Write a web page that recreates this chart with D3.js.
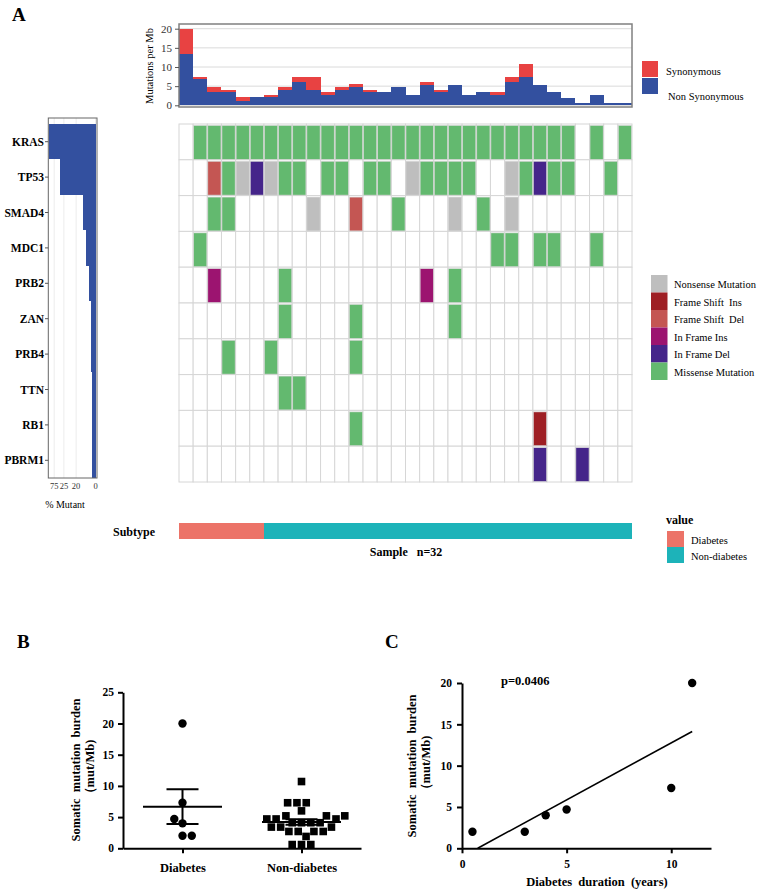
<!DOCTYPE html>
<html><head><meta charset="utf-8">
<script src="https://cdn.jsdelivr.net/npm/d3@7"></script>
<style>
body{margin:0;background:#fff}
svg{display:block}
text{font-family:"Liberation Serif","Times New Roman",serif;white-space:pre}
</style>
</head><body>
<svg id="chart" width="758" height="892"></svg>
<script>
// ---------------- DATA ----------------
const samples = ["P01","P02","P03","P04","P05","P06","P07","P08","P09","P10","P11","P12","P13","P14","P15","P16",
                 "P17","P18","P19","P20","P21","P22","P23","P24","P25","P26","P27","P28","P29","P30","P31","P32"];
const genes = ["KRAS","TP53","SMAD4","MDC1","PRB2","ZAN","PRB4","TTN","RB1","PBRM1"];
// one string per gene, one character per sample: M missense, N nonsense, I frame-shift ins,
// D frame-shift del, i in-frame ins, d in-frame del, . none
const geneCalls = [
  ".MMMMMMMMMMMMMMMMMMMMMMMMMMM.M.M",
  "..DMNdNMM.MM.MM.NMMMM..NMdMM..M.",
  "..MM.....N..D..M...N.M.N........",
  ".M....................MM.MM..M..",
  "..i....M.........i.M............",
  ".......M....M......M............",
  "...M..M.....M...................",
  ".......MM.......................",
  "............M............I......",
  ".........................d..d..."
];
const nonSynonymous = [13.5,6.9,3.6,3.6,1.2,2.1,2.1,4.1,6.1,4.1,2.7,4.1,4.9,3.6,3.5,4.9,
                       2.6,5.4,3.5,5.4,2.6,3.5,2.8,6.1,7.4,5.4,3.5,2.0,0.6,2.6,0.6,0.6];
const synonymous    = [6.5,0.5,1.2,0.5,0.9,0,0.5,0.7,1.3,3.3,0.8,0.7,0.6,0.5,0,0,
                       0,0.7,0.6,0,0,0,0.7,1.3,3.4,0,0,0,0,0,0,0];
const sampleSubtype = ["Diabetes","Diabetes","Diabetes","Diabetes","Diabetes","Diabetes",
  "Non-diabetes","Non-diabetes","Non-diabetes","Non-diabetes","Non-diabetes","Non-diabetes","Non-diabetes",
  "Non-diabetes","Non-diabetes","Non-diabetes","Non-diabetes","Non-diabetes","Non-diabetes","Non-diabetes",
  "Non-diabetes","Non-diabetes","Non-diabetes","Non-diabetes","Non-diabetes","Non-diabetes","Non-diabetes",
  "Non-diabetes","Non-diabetes","Non-diabetes","Non-diabetes","Non-diabetes"];

const mutationCodes  = ["N","I","D","i","d","M"];
const mutationLabels = ["Nonsense Mutation","Frame Shift  Ins","Frame Shift  Del","In Frame Ins","In Frame Del","Missense Mutation"];
const mutationColors = ["#bebebe","#9e1f24","#c45653","#9c1470","#45258a","#63b96f"];
const burdenLabels = ["Synonymous","Non Synonymous"];
const burdenColors = ["#e84242","#33509f"];
const subtypeLevels = ["Diabetes","Non-diabetes"];
const subtypeColors = ["#ec7368","#1db3b9"];

const topTicks = [0,5,10,15,20];
const pctTickValues = [81,62,38,0];
const pctTickLabels = ["75","25","20","0"];

// Panel B
const groupsB = ["Diabetes","Non-diabetes"];
const diabetesTMB = [20.0,7.3,4.7,4.0,2.0,2.0];
const nonDiabetesTMB = [10.7,7.3,7.3,7.3,6.0,5.2,5.2,5.2,4.7,4.7,4.7,4.1,4.1,4.1,4.1,
                        3.4,3.4,3.4,2.7,2.7,2.7,2.7,1.9,0.6,0.6,0.6];
const ticksB = [0,5,10,15,20,25];

// Panel C
const durationYears = [0.5,3,4,5,10,11];
const durationTMB   = [2.0,2.0,4.0,4.7,7.3,20.0];
const ticksCx = [0,5,10];
const ticksCy = [0,5,10,15,20];
const pText = "p=0.0406";

// ---------------- DRAW ----------------
const svg = d3.select("#chart");

// Panel A label
svg.append("text").attr("x",12).attr("y",21).attr("font-size",19).attr("font-weight","bold").text("A");

// ---- top bar chart
const xS = d3.scaleBand().domain(samples).range([179,632]).padding(0);
const yTop = d3.scaleLinear().domain([0,20]).range([105.3,28.7]);
const topG = svg.append("g");
topG.selectAll(".gl").data(topTicks).join("line")
  .attr("x1",179).attr("x2",632).attr("y1",d=>yTop(d)).attr("y2",d=>yTop(d))
  .attr("stroke","#dadada").attr("stroke-width",1);
topG.selectAll(".ns").data(samples).join("rect")
  .attr("x",d=>xS(d)).attr("width",xS.bandwidth())
  .attr("y",(d,i)=>yTop(nonSynonymous[i])).attr("height",(d,i)=>yTop(0)-yTop(nonSynonymous[i]))
  .attr("fill",burdenColors[1]).attr("shape-rendering","crispEdges");
topG.selectAll(".sy").data(samples).join("rect")
  .attr("x",d=>xS(d)).attr("width",xS.bandwidth())
  .attr("y",(d,i)=>yTop(nonSynonymous[i]+synonymous[i])).attr("height",(d,i)=>yTop(nonSynonymous[i])-yTop(nonSynonymous[i]+synonymous[i]))
  .attr("fill",burdenColors[0]).attr("shape-rendering","crispEdges");
topG.append("rect").attr("x",179).attr("y",24).attr("width",453).attr("height",83)
  .attr("fill","none").attr("stroke","#808080").attr("stroke-width",1.5);
const yAxTop = topG.append("g").attr("transform","translate(179,0)")
  .call(d3.axisLeft(yTop).tickValues(topTicks).tickSize(4).tickSizeOuter(0));
yAxTop.select(".domain").remove();
yAxTop.selectAll("line").attr("stroke","#555");
yAxTop.selectAll("text").attr("font-family","Liberation Serif").attr("font-size",11).attr("fill","#333");
topG.append("text").attr("transform","translate(153,66) rotate(-90)").attr("text-anchor","middle")
  .attr("font-size",10.5).text("Mutations per Mb");

// top legend
burdenLabels.forEach((lab,i)=>{
  svg.append("rect").attr("x",642).attr("y",61+i*17).attr("width",16).attr("height",16).attr("fill",burdenColors[i]);
});
svg.append("text").attr("x",666).attr("y",75).attr("font-size",10.5).text(burdenLabels[0]);
svg.append("text").attr("x",668).attr("y",100).attr("font-size",10.5).text(burdenLabels[1]);

// ---- oncoprint grid
const yG = d3.scaleBand().domain(genes).range([124,482]).padding(0);
const colorOf = c => mutationColors[mutationCodes.indexOf(c)];
const cells = [];
genes.forEach((g,gi)=>samples.forEach((s,si)=>cells.push({g,s,c:geneCalls[gi][si]})));
const grid = svg.append("g");
grid.selectAll("rect.cell").data(cells).join("rect")
  .attr("x",d=>xS(d.s)).attr("y",d=>yG(d.g)).attr("width",xS.bandwidth()).attr("height",yG.bandwidth())
  .attr("fill","#fff").attr("stroke","#d6d6d6").attr("stroke-width",1);
grid.selectAll("rect.mut").data(cells.filter(d=>d.c!==".")).join("rect")
  .attr("x",d=>xS(d.s)+0.5).attr("y",d=>yG(d.g)+1.5).attr("width",xS.bandwidth()-1).attr("height",yG.bandwidth()-2)
  .attr("fill",d=>colorOf(d.c)).attr("stroke","#d6d6d6").attr("stroke-width",0.6);

// mutation legend
mutationLabels.forEach((lab,i)=>{
  svg.append("rect").attr("x",651).attr("y",275+i*17.5).attr("width",16.5).attr("height",17.5).attr("fill",mutationColors[i]);
  svg.append("text").attr("x",674).attr("y",275+i*17.5+13).attr("font-size",10.5).text(lab);
});

// ---- left % mutant bars
const pct = geneCalls.map(s=>s.split("").filter(c=>c!==".").length/samples.length*100);
const xP = d3.scaleLinear().domain([0,100]).range([95.5,44.5]);
const yL = d3.scaleBand().domain(genes).range([124,478]).padding(0);
const leftG = svg.append("g");
leftG.selectAll(".vg").data(pctTickValues).join("line")
  .attr("x1",d=>xP(d)).attr("x2",d=>xP(d)).attr("y1",118).attr("y2",478)
  .attr("stroke","#ececec").attr("stroke-width",1);
leftG.selectAll(".pb").data(genes).join("rect")
  .attr("x",(d,i)=>xP(pct[i])).attr("width",(d,i)=>xP(0)-xP(pct[i]))
  .attr("y",d=>yL(d)).attr("height",yL.bandwidth())
  .attr("fill","#33509f").attr("shape-rendering","crispEdges");
leftG.append("rect").attr("x",48.3).attr("y",118).attr("width",48.7).attr("height",360)
  .attr("fill","none").attr("stroke","#666").attr("stroke-width",1);
leftG.selectAll(".gt").data(genes).join("line")
  .attr("x1",45).attr("x2",48.3).attr("y1",d=>yL(d)+yL.bandwidth()/2).attr("y2",d=>yL(d)+yL.bandwidth()/2)
  .attr("stroke","#555");
leftG.selectAll(".gn").data(genes).join("text")
  .attr("x",44).attr("y",d=>yL(d)+yL.bandwidth()/2+4).attr("text-anchor","end")
  .attr("font-size",11.5).attr("font-weight","bold").text(d=>d);
leftG.selectAll(".pt").data(pctTickValues).join("text")
  .attr("x",d=>xP(d)).attr("y",489).attr("text-anchor","middle").attr("font-size",8.5).attr("fill","#333")
  .text((d,i)=>pctTickLabels[i]);
leftG.append("text").attr("x",65).attr("y",508).attr("text-anchor","middle").attr("font-size",10).text("% Mutant");

// ---- subtype bar
svg.append("text").attr("x",113).attr("y",536).attr("font-size",12).attr("font-weight","bold").text("Subtype");
svg.selectAll(".st").data(samples).join("rect")
  .attr("x",d=>xS(d)).attr("width",xS.bandwidth()+0.3).attr("y",523).attr("height",16)
  .attr("fill",(d,i)=>subtypeColors[subtypeLevels.indexOf(sampleSubtype[i])]).attr("shape-rendering","crispEdges");
svg.append("text").attr("x",406).attr("y",556).attr("text-anchor","middle").attr("font-size",12).attr("font-weight","bold")
  .text("Sample   n=" + samples.length);
svg.append("text").attr("x",666).attr("y",524).attr("font-size",12).attr("font-weight","bold").text("value");
subtypeLevels.forEach((lab,i)=>{
  svg.append("rect").attr("x",667).attr("y",531+i*16).attr("width",17).attr("height",16).attr("fill",subtypeColors[i]);
  svg.append("text").attr("x",691).attr("y",544+i*16).attr("font-size",10.5).text(lab);
});

// ---------------- Panel B ----------------
svg.append("text").attr("x",17).attr("y",648).attr("font-size",19).attr("font-weight","bold").text("B");
const yB = d3.scaleLinear().domain([0,25]).range([848.3,692.3]);
const xB = d3.scalePoint().domain(groupsB).range([123,361]).padding(0.5);
const gB = svg.append("g");
function styleAxis(g){
  g.select(".domain").attr("stroke","#000").attr("stroke-width",2);
  g.selectAll(".tick line").attr("stroke","#000").attr("stroke-width",2);
  g.selectAll("text").attr("font-family","Liberation Serif").attr("font-weight","bold").attr("fill","#000");
}
const axBy = gB.append("g").attr("transform","translate(123,0)")
  .call(d3.axisLeft(yB).tickValues(ticksB).tickSize(5).tickSizeOuter(0));
styleAxis(axBy); axBy.selectAll("text").attr("font-size",11.5).attr("dx",-1);
const axBx = gB.append("g").attr("transform","translate(0,848.3)")
  .call(d3.axisBottom(xB).tickSize(5).tickSizeOuter(0));
styleAxis(axBx); axBx.selectAll("text").attr("font-size",12.5).attr("dy","1.25em");

function swarm(vals, ys, D){
  const pts = vals.map(v=>({v, y: ys(v)})).sort((a,b)=>a.v-b.v);
  const placed = [];
  for(const p of pts){
    const cands = [0];
    for(const q of placed){
      const dy = Math.abs(q.y-p.y);
      if(dy<D){ const dx = Math.sqrt(D*D-dy*dy); cands.push(q.dx+dx+0.01, q.dx-dx-0.01); }
    }
    const bias = d3.sum(placed, q=>Math.sign(q.dx));
    cands.sort((a,b)=>{
      const d = Math.abs(a)-Math.abs(b);
      if(Math.abs(d)>0.05) return d;
      return bias>0 ? a-b : b-a;
    });
    for(const c of cands){
      if(placed.every(q=>Math.hypot(q.dx-c,q.y-p.y)>=D-0.05)){ p.dx=c; break; }
    }
    placed.push(p);
  }
  return placed;
}
function meanSem(arr){
  const m = d3.mean(arr), sd = d3.deviation(arr);
  return {m, se: sd/Math.sqrt(arr.length)};
}
const swD = swarm(diabetesTMB, yB, 9.3);
const swN = swarm(nonDiabetesTMB, yB, 9.3);
gB.selectAll(".pd").data(swD).join("circle")
  .attr("cx",d=>xB("Diabetes")+d.dx).attr("cy",d=>d.y).attr("r",4.2).attr("fill","#000");
gB.selectAll(".pn").data(swN).join("rect")
  .attr("x",d=>xB("Non-diabetes")+d.dx-3.8).attr("y",d=>d.y-3.8).attr("width",7.6).attr("height",7.6).attr("fill","#000");
[[diabetesTMB,"Diabetes"],[nonDiabetesTMB,"Non-diabetes"]].forEach(([arr,grp])=>{
  const {m,se} = meanSem(arr); const cx = xB(grp);
  const L = gB.append("g").attr("stroke","#000").attr("stroke-width",2);
  L.append("line").attr("x1",cx-39.5).attr("x2",cx+39.5).attr("y1",yB(m)).attr("y2",yB(m));
  L.append("line").attr("x1",cx).attr("x2",cx).attr("y1",yB(m-se)).attr("y2",yB(m+se));
  [m-se,m+se].forEach(v=>L.append("line").attr("x1",cx-16).attr("x2",cx+16).attr("y1",yB(v)).attr("y2",yB(v)));
});
gB.append("text").attr("transform","translate(80,770) rotate(-90)").attr("text-anchor","middle")
  .attr("font-size",12.5).attr("font-weight","bold").attr("word-spacing",3).text("Somatic mutation burden");
gB.append("text").attr("transform","translate(94,770) rotate(-90)").attr("text-anchor","middle")
  .attr("font-size",12.5).attr("font-weight","bold").text("（mut/Mb)");

// ---------------- Panel C ----------------
svg.append("text").attr("x",385).attr("y",648).attr("font-size",19).attr("font-weight","bold").text("C");
const xC = d3.scaleLinear().domain([0,11.9]).range([462,711]);
const yC = d3.scaleLinear().domain([0,20]).range([848.3,683]);
const gC = svg.append("g");
const axCy = gC.append("g").attr("transform","translate(462,0)")
  .call(d3.axisLeft(yC).tickValues(ticksCy).tickSize(5).tickSizeOuter(0));
styleAxis(axCy); axCy.selectAll("text").attr("font-size",11.5).attr("dx",-2);
const axCx = gC.append("g").attr("transform","translate(0,848.3)")
  .call(d3.axisBottom(xC).tickValues(ticksCx).tickSize(5).tickSizeOuter(0));
styleAxis(axCx); axCx.selectAll("text").attr("font-size",11.5).attr("dy","1.05em");
// least-squares fit
const mx = d3.mean(durationYears), my = d3.mean(durationTMB);
const sxy = d3.sum(durationYears.map((x,i)=>(x-mx)*(durationTMB[i]-my)));
const sxx = d3.sum(durationYears.map(x=>(x-mx)*(x-mx)));
const slope = sxy/sxx, icpt = my - slope*mx;
const xStart = -icpt/slope, xEnd = d3.max(durationYears);
gC.append("line").attr("x1",xC(xStart)).attr("y1",yC(0)).attr("x2",xC(xEnd)).attr("y2",yC(icpt+slope*xEnd))
  .attr("stroke","#000").attr("stroke-width",1.6);
gC.selectAll(".pc").data(durationYears).join("circle")
  .attr("cx",d=>xC(d)).attr("cy",(d,i)=>yC(durationTMB[i])).attr("r",4.2).attr("fill","#000");
gC.append("text").attr("x",501).attr("y",685).attr("font-size",12.5).attr("font-weight","bold").text(pText);
gC.append("text").attr("transform","translate(416,766) rotate(-90)").attr("text-anchor","middle")
  .attr("font-size",12.5).attr("font-weight","bold").attr("word-spacing",3).text("Somatic mutation burden");
gC.append("text").attr("transform","translate(430,766) rotate(-90)").attr("text-anchor","middle")
  .attr("font-size",12.5).attr("font-weight","bold").text("（mut/Mb)");
gC.append("text").attr("x",597).attr("y",886).attr("text-anchor","middle")
  .attr("font-size",12.5).attr("font-weight","bold").attr("word-spacing",3).text("Diabetes duration (years)");
</script>
</body></html>
